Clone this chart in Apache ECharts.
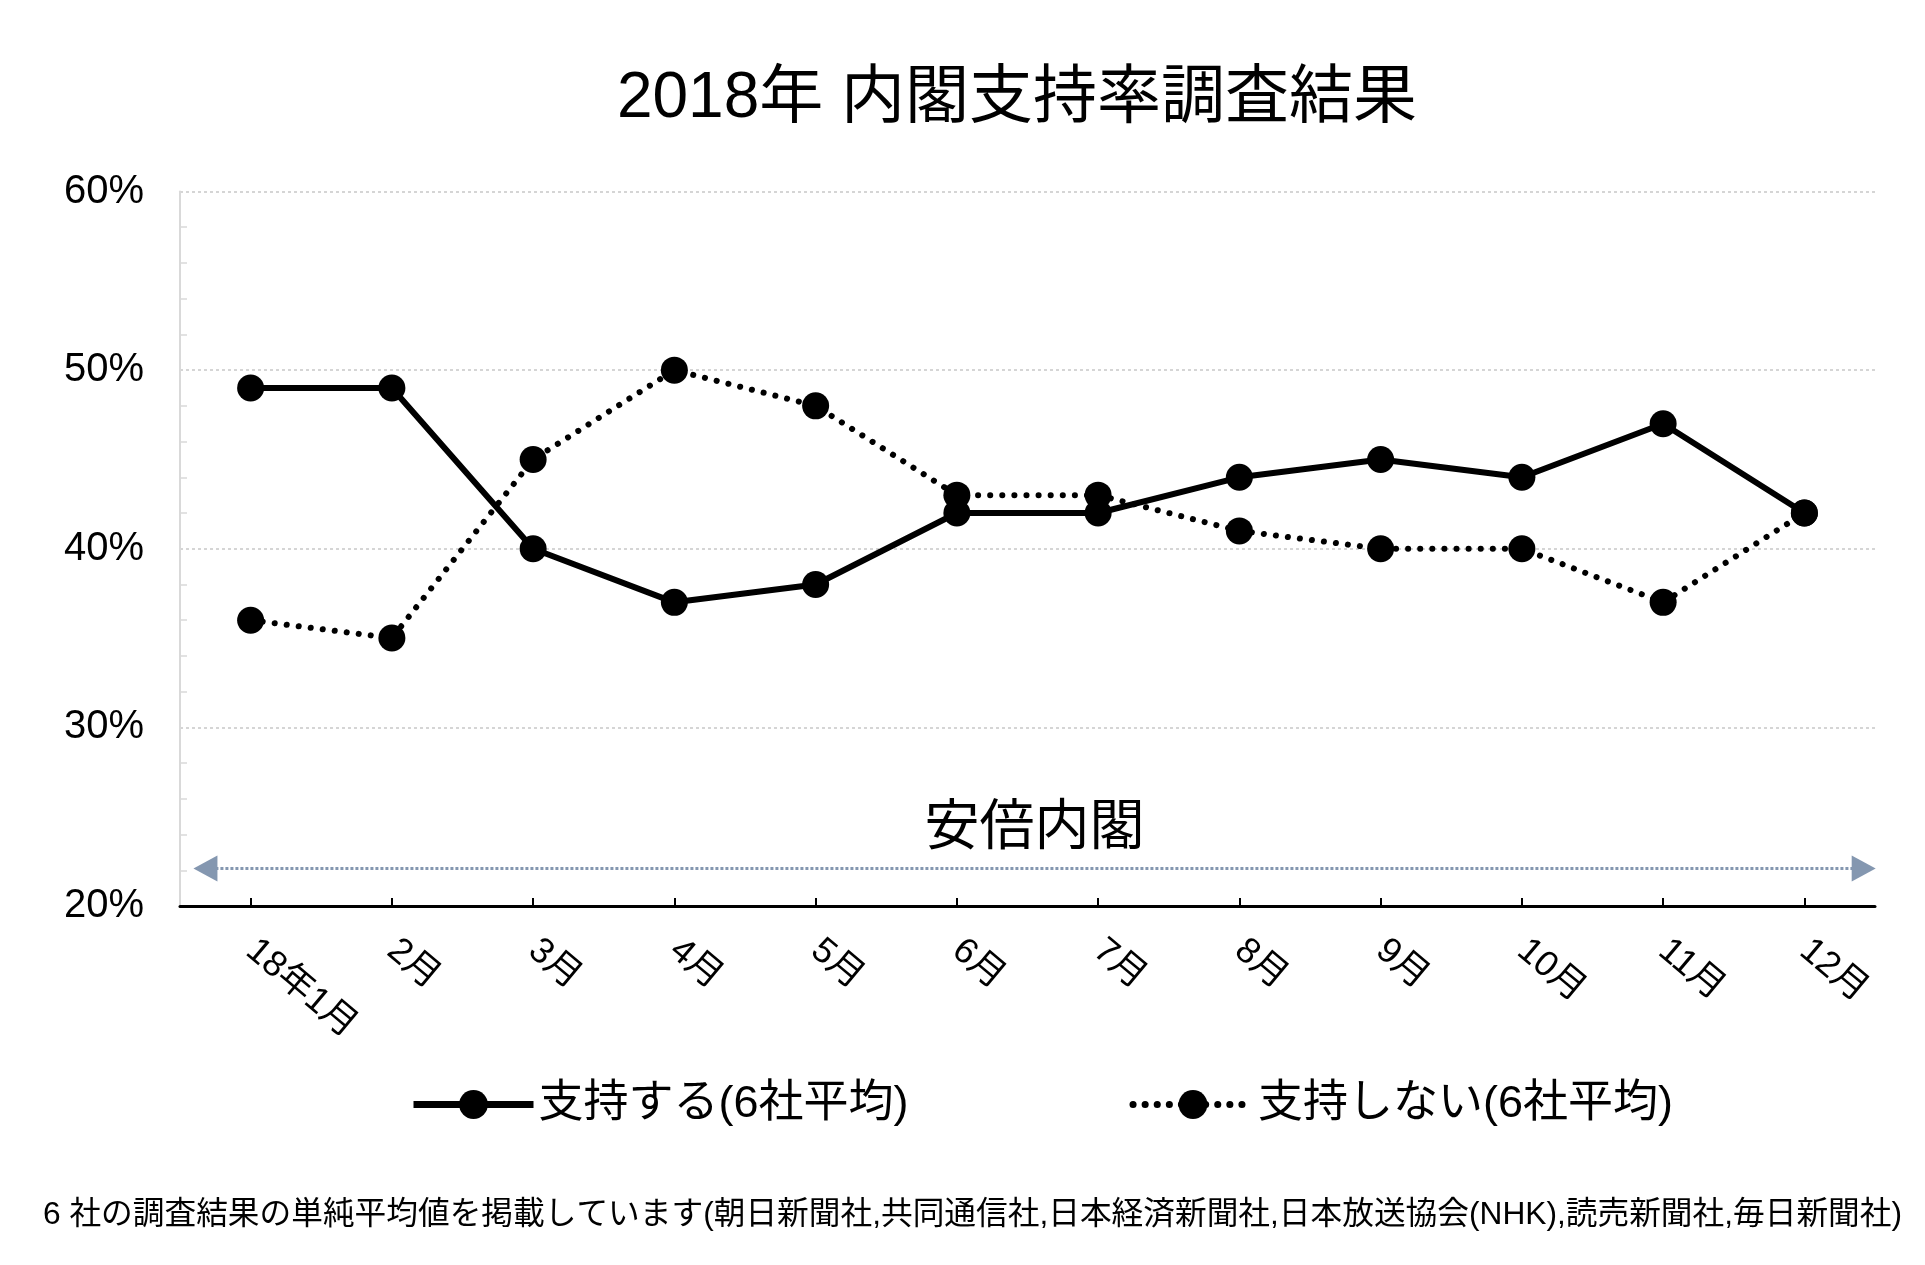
<!DOCTYPE html>
<html>
<head>
<meta charset="utf-8">
<script src="https://cdn.jsdelivr.net/npm/echarts@6/dist/echarts.min.js"></script>
<style>
html,body{margin:0;padding:0;background:#fff;}
#c{width:1925px;height:1265px;}
</style>
</head>
<body>
<div id="c"></div>
<script>
const categories = ['18年1月','2月','3月','4月','5月','6月','7月','8月','9月','10月','11月','12月'];
const supportValues = [49,49,40,37,38,42,42,44,45,44,47,42];
const notSupportValues = [36,35,45,50,48,43,43,41,40,40,37,42];
const yTicks = [20,30,40,50,60];
const seriesNames = ['支持する(6社平均)','支持しない(6社平均)'];
const titleText = '2018年 内閣支持率調査結果';
const footerText = '6 社の調査結果の単純平均値を掲載しています(朝日新聞社,共同通信社,日本経済新聞社,日本放送協会(NHK),読売新聞社,毎日新聞社)';
const cabinetLabel = '安倍内閣';
const cabinetSpan = [-0.32, 11.42];
const cabinetLevel = 22.1;

const FONT = '"Liberation Sans","Noto Sans CJK JP",sans-serif';
const chart = echarts.init(document.getElementById('c'));
chart.setOption({
  backgroundColor: '#fff',
  animation: false,
  textStyle: {fontFamily: FONT, color: '#000'},
  title: [
    {text: titleText, left: 1012, top: 62, textAlign: 'center',
     textStyle: {fontSize: 64, fontWeight: 'normal', color: '#000', fontFamily: FONT}},
    {text: footerText, left: 38, top: 1194,
     textStyle: {fontSize: 31.7, fontWeight: 'normal', color: '#000', fontFamily: FONT}}
  ],
  legend: {
    data: [
      {name: seriesNames[0], lineStyle: {width: 7}},
      {name: seriesNames[1], lineStyle: {width: 7}}
    ],
    left: 405,
    top: 1077,
    itemWidth: 120,
    itemHeight: 36,
    itemGap: 221,
    textStyle: {fontSize: 45, color: '#000', fontFamily: FONT}
  },
  grid: {left: 180, right: 50, top: 191.5, bottom: 359, containLabel: false},
  xAxis: [{
    type: 'category',
    data: categories,
    boundaryGap: true,
    axisLine: {lineStyle: {color: '#000', width: 3}},
    axisTick: {show: true, alignWithLabel: true, inside: true, length: 8, lineStyle: {color: '#000', width: 2}},
    axisLabel: {rotate: -40, fontSize: 36, color: '#000', margin: 40, fontFamily: FONT},
    splitLine: {show: false}
  }, {
    type: 'value', show: false, min: -0.5, max: 11.5, gridIndex: 0
  }],
  yAxis: {
    type: 'value', min: 20, max: 60, interval: 10,
    axisLine: {show: true, onZero: false, lineStyle: {color: '#d9d9d9', width: 2}},
    axisTick: {show: false, inside: true, length: 7, lineStyle: {color: '#d9d9d9'}},
    minorTick: {show: true, splitNumber: 5, length: 7, lineStyle: {color: '#d9d9d9', width: 1.5}},
    axisLabel: {formatter: v => v + '%', fontSize: 40, color: '#000', margin: 36, fontFamily: FONT},
    splitLine: {show: true, lineStyle: {color: '#c8c8c8', type: [3, 3], width: 1.5}}
  },
  series: [
    {
      name: seriesNames[0], type: 'line', data: supportValues,
      symbol: 'circle', symbolSize: 27,
      lineStyle: {color: '#000', width: 6},
      itemStyle: {color: '#000'},
      z: 3
    },
    {
      name: seriesNames[1], type: 'line', data: notSupportValues,
      symbol: 'circle', symbolSize: 27,
      lineStyle: {color: '#000', width: 6, type: [0.1, 12], cap: 'round'},
      itemStyle: {color: '#000'},
      z: 3
    },
    {
      name: 'cabinet', type: 'line', xAxisIndex: 1, data: [],
      silent: true,
      markLine: {
        silent: true,
        symbol: ['triangle', 'triangle'],
        symbolSize: [26, 24],
        label: {show: true, position: 'middle', formatter: cabinetLabel, fontSize: 55, color: '#000', distance: 12, fontFamily: FONT},
        lineStyle: {color: '#8497b0', type: [3, 2], width: 3},
        itemStyle: {color: '#8497b0'},
        data: [[{coord: [cabinetSpan[0], cabinetLevel]}, {coord: [cabinetSpan[1], cabinetLevel]}]]
      }
    }
  ]
});
</script>
</body>
</html>
